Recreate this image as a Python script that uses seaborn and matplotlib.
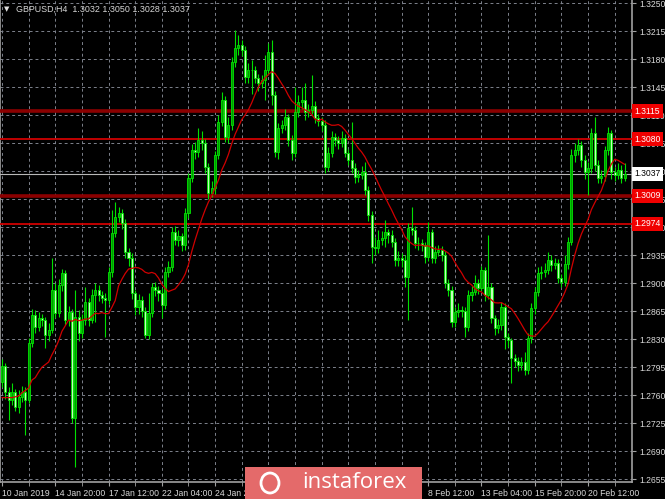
import numpy as np
import pandas as pd
import matplotlib
matplotlib.use('Agg')
import matplotlib.pyplot as plt
import matplotlib.transforms as mtransforms
from matplotlib.patches import Rectangle, Ellipse
import seaborn as sns

# GBPUSD H4 candles, 10 Jan - 21 Feb 2019
first_open = 1.2777
closes = [
    1.2797, 1.2764, 1.2754, 1.2764, 1.2745, 1.2758, 1.2764, 1.2754, 1.2825, 1.2860,
    1.2845, 1.2856, 1.2854, 1.2835, 1.2842, 1.2892, 1.2863, 1.2898, 1.2913, 1.2854,
    1.2864, 1.2732, 1.2858, 1.2838, 1.2854, 1.2877, 1.2854, 1.2885, 1.2892, 1.2885,
    1.2882, 1.2879, 1.2914, 1.2963, 1.2983, 1.2988, 1.2975, 1.2939, 1.2932, 1.2888,
    1.2870, 1.2879, 1.2865, 1.2835, 1.2863, 1.2895, 1.2892, 1.2888, 1.2873, 1.2914,
    1.2920, 1.2964, 1.2954, 1.2959, 1.2948, 1.2988, 1.3032, 1.3067, 1.3064, 1.3079,
    1.3075, 1.3045, 1.3013, 1.3019, 1.3060, 1.3102, 1.3129, 1.3083, 1.3098, 1.3177,
    1.3194, 1.3198, 1.3192, 1.3158, 1.3167, 1.3167, 1.3157, 1.3150, 1.3154, 1.3167,
    1.3189, 1.3135, 1.3064, 1.3094, 1.3098, 1.3108, 1.3079, 1.3063, 1.3114, 1.3127,
    1.3129, 1.3114, 1.3117, 1.3122, 1.3107, 1.3103, 1.3098, 1.3045, 1.3063, 1.3083,
    1.3079, 1.3075, 1.3082, 1.3063, 1.3054, 1.3044, 1.3033, 1.3035, 1.3039, 1.3017,
    1.2985, 1.2945, 1.2944, 1.2954, 1.2957, 1.2964, 1.2960, 1.2952, 1.2929, 1.2932,
    1.2929, 1.2908, 1.2969, 1.2967, 1.2950, 1.2950, 1.2948, 1.2933, 1.2964, 1.2932,
    1.2939, 1.2942, 1.2935, 1.2900, 1.2892, 1.2852, 1.2864, 1.2867, 1.2865, 1.2845,
    1.2885, 1.2889, 1.2900, 1.2894, 1.2917, 1.2885, 1.2895, 1.2856, 1.2844, 1.2848,
    1.2870, 1.2833, 1.2829, 1.2807, 1.2803, 1.2798, 1.2802, 1.2792, 1.2831, 1.2869,
    1.2889, 1.2913, 1.2914, 1.2917, 1.2929, 1.2923, 1.2925, 1.2907, 1.2902, 1.2924,
    1.2952, 1.3060, 1.3067, 1.3073, 1.3054, 1.3039, 1.3044, 1.3088, 1.3048, 1.3032,
    1.3034, 1.3067, 1.3088, 1.3039, 1.3035, 1.3042, 1.3032, 1.3037,
]
highs = [
    1.2805, 1.2800, 1.2770, 1.2775, 1.2768, 1.2766, 1.2772, 1.2770, 1.2832, 1.2868,
    1.2866, 1.2864, 1.2862, 1.2858, 1.2850, 1.2931, 1.2900, 1.2905, 1.2918, 1.2916,
    1.2872, 1.2868, 1.2891, 1.2866, 1.2862, 1.2895, 1.2882, 1.2893, 1.2900, 1.2898,
    1.2890, 1.2888, 1.2920, 1.2991, 1.3001, 1.2995, 1.2993, 1.2980, 1.2944, 1.2938,
    1.2892, 1.2886, 1.2884, 1.2870, 1.2888, 1.2900, 1.2902, 1.2896, 1.2894, 1.2920,
    1.2928, 1.2970, 1.2972, 1.2966, 1.2963, 1.2994, 1.3038, 1.3074, 1.3076, 1.3094,
    1.3090, 1.3080, 1.3050, 1.3028, 1.3065, 1.3110, 1.3139, 1.3134, 1.3108, 1.3183,
    1.3216, 1.3210, 1.3204, 1.3196, 1.3175, 1.3179, 1.3172, 1.3162, 1.3160, 1.3185,
    1.3200, 1.3204, 1.3140, 1.3100, 1.3104, 1.3118, 1.3112, 1.3085, 1.3145, 1.3135,
    1.3145, 1.3150, 1.3124, 1.3160, 1.3128, 1.3112, 1.3108, 1.3104, 1.3070, 1.3090,
    1.3088, 1.3084, 1.3090, 1.3086, 1.3068, 1.3101, 1.3050, 1.3042, 1.3046, 1.3052,
    1.3022, 1.2990, 1.2958, 1.2966, 1.2965, 1.2979, 1.2968, 1.2966, 1.2956, 1.2940,
    1.2938, 1.2935, 1.2975, 1.2995, 1.2972, 1.2958, 1.2955, 1.2952, 1.2976, 1.2968,
    1.2946, 1.2948, 1.2946, 1.2940, 1.2905, 1.2896, 1.2870, 1.2875, 1.2872, 1.2870,
    1.2892, 1.2896, 1.2910, 1.2905, 1.2922, 1.2920, 1.2960, 1.2900, 1.2860, 1.2855,
    1.2876, 1.2875, 1.2838, 1.2832, 1.2812, 1.2808, 1.2808, 1.2814, 1.2838, 1.2875,
    1.2895, 1.2920, 1.2922, 1.2925, 1.2939, 1.2935, 1.2932, 1.2930, 1.2912, 1.2935,
    1.2958, 1.3068, 1.3075, 1.3080, 1.3078, 1.3060, 1.3052, 1.3094, 1.3108, 1.3054,
    1.3042, 1.3072, 1.3095, 1.3092, 1.3045, 1.3050, 1.3048, 1.3050,
]
lows = [
    1.2770, 1.2755, 1.2729, 1.2748, 1.2740, 1.2738, 1.2752, 1.2710, 1.2750, 1.2820,
    1.2838, 1.2840, 1.2846, 1.2819, 1.2828, 1.2838, 1.2856, 1.2858, 1.2890, 1.2848,
    1.2846, 1.2725, 1.2670, 1.2828, 1.2832, 1.2848, 1.2846, 1.2850, 1.2852, 1.2878,
    1.2875, 1.2833, 1.2874, 1.2908, 1.2958, 1.2976, 1.2968, 1.2932, 1.2922, 1.2880,
    1.2860, 1.2862, 1.2858, 1.2832, 1.2830, 1.2858, 1.2884, 1.2878, 1.2856, 1.2868,
    1.2908, 1.2915, 1.2948, 1.2946, 1.2940, 1.2942, 1.2982, 1.3026, 1.3055, 1.3058,
    1.3066, 1.3038, 1.3005, 1.3008, 1.3012, 1.3055, 1.3096, 1.3076, 1.3075, 1.3092,
    1.3170, 1.3185, 1.3184, 1.3150, 1.3150, 1.3137, 1.3150, 1.3140, 1.3144, 1.3129,
    1.3160, 1.3123, 1.3058, 1.3055, 1.3088, 1.3092, 1.3072, 1.3054, 1.3058, 1.3108,
    1.3118, 1.3104, 1.3108, 1.3112, 1.3100, 1.3096, 1.3090, 1.3038, 1.3040, 1.3058,
    1.3072, 1.3068, 1.3070, 1.3058, 1.3048, 1.3038, 1.3025, 1.3026, 1.3030, 1.3010,
    1.2978, 1.2925, 1.2935, 1.2938, 1.2948, 1.2945, 1.2950, 1.2945, 1.2922, 1.2922,
    1.2920, 1.2895, 1.2854, 1.2960, 1.2944, 1.2942, 1.2940, 1.2925, 1.2928, 1.2925,
    1.2925, 1.2934, 1.2928, 1.2894, 1.2884, 1.2845, 1.2845, 1.2858, 1.2858, 1.2833,
    1.2840, 1.2878, 1.2885, 1.2886, 1.2890, 1.2878, 1.2880, 1.2850, 1.2835, 1.2838,
    1.2842, 1.2818, 1.2820, 1.2775, 1.2795, 1.2790, 1.2792, 1.2785, 1.2786, 1.2825,
    1.2862, 1.2884, 1.2905, 1.2908, 1.2912, 1.2915, 1.2918, 1.2900, 1.2895, 1.2896,
    1.2918, 1.2948, 1.3052, 1.3060, 1.3045, 1.3030, 1.3010, 1.3038, 1.3040, 1.3025,
    1.3025, 1.3028, 1.3060, 1.3030, 1.3028, 1.3030, 1.3025, 1.3028,
]
# moving average values visible at the left edge (before a full window exists)
ma_head = [1.2757, 1.2757, 1.2757, 1.2757, 1.2758, 1.2759, 1.2763,
           1.2766, 1.2769, 1.2779, 1.2782, 1.2789, 1.2795]
ma_period = 14

x_labels = ['10 Jan 2019', '14 Jan 20:00', '17 Jan 12:00', '22 Jan 04:00',
            '24 Jan 20:00', '29 Jan 12:00', '1 Feb 04:00', '5 Feb 20:00',
            '8 Feb 12:00', '13 Feb 04:00', '15 Feb 20:00', '20 Feb 12:00']
y_ticks = [1.2655, 1.2690, 1.2725, 1.2760, 1.2795, 1.2830, 1.2865, 1.2900, 1.2935,
           1.2970, 1.3005, 1.3040, 1.3075, 1.3110, 1.3145, 1.3180, 1.3215, 1.3250]

# horizontal levels: (price, line colour, width)
levels = [(1.3115, '#8b0000', 2.6), (1.3080, '#d00000', 1.3),
          (1.3009, '#8b0000', 2.6), (1.2974, '#d00000', 1.3)]
last_price = 1.3037

df = pd.DataFrame({'close': closes, 'high': highs, 'low': lows})
df['open'] = [first_open] + closes[:-1]
df['bar'] = np.arange(len(df))
ma = df['close'].rolling(ma_period).mean()
ma.iloc[:len(ma_head)] = ma_head
df['ma'] = ma

sns.set_style('dark', rc={'axes.facecolor': 'black', 'figure.facecolor': 'black'})
plt.rcParams['font.family'] = ['Liberation Sans', 'DejaVu Sans']

fig = plt.figure(figsize=(6.65, 4.99), dpi=100, facecolor='black')
ax = fig.add_axes([0.0, 17 / 499, 632 / 665, 482 / 499])
ax.set_facecolor('black')

# grid
ax.set_axisbelow(True)
ax.grid(True, which='both', color='#7d828c', linestyle=(0, (3, 3)), linewidth=0.7)

# candles
bull = df['close'] >= df['open']
body_lo = np.minimum(df['open'], df['close'])
body_h = (df['close'] - df['open']).abs()
ax.vlines(df['bar'], df['low'], df['high'], color='#00e000', linewidth=0.8, zorder=3)
ax.bar(df['bar'][bull], body_h[bull], bottom=body_lo[bull], width=0.62,
       color='#009a00', edgecolor='#00e600', linewidth=0.6, zorder=4)
ax.bar(df['bar'][~bull], body_h[~bull], bottom=body_lo[~bull], width=0.62,
       color='#c4ffbc', edgecolor='#00e600', linewidth=0.6, zorder=4)

# moving average
sns.lineplot(data=df, x='bar', y='ma', ax=ax, color='#d00000', linewidth=0.9, zorder=5)

# level lines
trans = mtransforms.blended_transform_factory(ax.transAxes, ax.transData)
for price, col, lw in levels:
    ax.axhline(price, color=col, linewidth=lw, zorder=2.6)
ax.axhline(last_price, color='#b8b8b8', linewidth=0.8, zorder=2.6)

ax.set_xlim(-0.6, 189.2)
ax.set_ylim(1.26515, 1.3254)

# axes styling
ax.spines['top'].set_visible(False)
for side in ['left', 'right', 'bottom']:
    ax.spines[side].set_color('#a0a0a0')
    ax.spines[side].set_linewidth(1.2)

ax.yaxis.tick_right()
ax.set_yticks(y_ticks)
ax.set_yticklabels([f'{v:.4f}' for v in y_ticks])
ax.tick_params(axis='y', colors='#a0a0a0', labelcolor='#d8d8d8', labelsize=6.2,
               length=3, pad=2, right=True, left=False)

label_bars = list(range(0, len(df), 16))
ax.set_xticks(label_bars)
ax.set_xticklabels(x_labels, ha='left')
ax.set_xticks(list(range(8, len(df), 16)), minor=True)
ax.tick_params(axis='x', which='both', colors='#a0a0a0', labelcolor='#d8d8d8',
               labelsize=6.2, length=3, pad=2, bottom=True)
ax.set_xlabel('')
ax.set_ylabel('')

# price labels on the right axis
for price, col, lw in levels:
    ax.text(1.004, price, f'{price:.4f}', transform=trans, ha='left', va='center',
            fontsize=6.2, color='white', clip_on=False, zorder=10,
            bbox=dict(boxstyle='square,pad=0.3', fc='#f00000', ec='none'))
ax.text(1.004, last_price, f'{last_price:.4f}', transform=trans, ha='left', va='center',
        fontsize=6.2, color='black', clip_on=False, zorder=10,
        bbox=dict(boxstyle='square,pad=0.3', fc='white', ec='none'))

# header
fig.text(4 / 665, 1 - 9 / 499, '\u25BC', fontsize=5, color='#e0e0e0', va='center',
         family='DejaVu Sans')
fig.text(16 / 665, 1 - 9 / 499, 'GBPUSD,H4  1.3032 1.3050 1.3028 1.3037',
         fontsize=6.4, color='#d8d8d8', va='center')

# watermark
fig.add_artist(Rectangle((245 / 665, 0), 177 / 665, 32 / 499, transform=fig.transFigure,
                         fc='#e46a6a', ec='none', zorder=20))
fig.add_artist(Ellipse((270 / 665, 16 / 499), 18 / 665, 20 / 499, transform=fig.transFigure,
                       fc='none', ec='white', lw=2, zorder=21))
fig.text(354 / 665, 16 / 499, 'instaforex', fontsize=16, color='white',
         family=['Open Sans', 'DejaVu Sans'], ha='center', va='center', zorder=22)

fig.savefig('out.png', dpi=100, facecolor='black')
